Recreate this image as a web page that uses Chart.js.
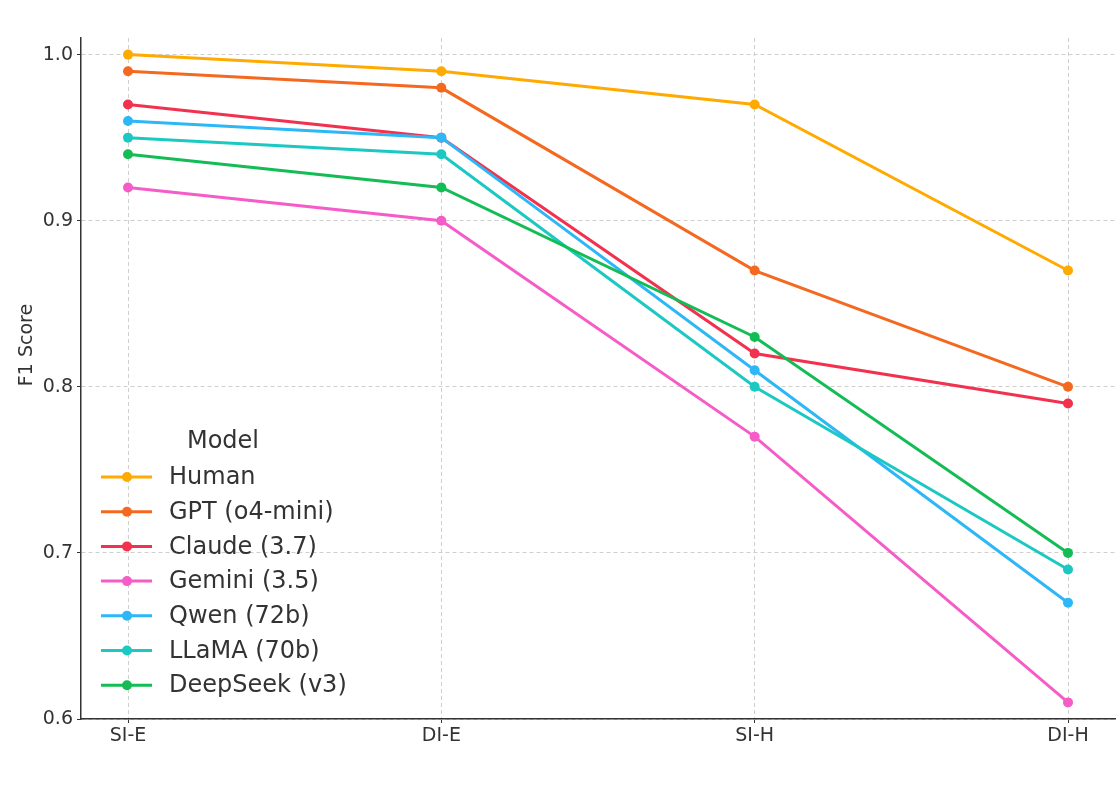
<!DOCTYPE html>
<html>
<head>
<meta charset="utf-8">
<script src="https://cdn.jsdelivr.net/npm/chart.js@4.4.1/dist/chart.umd.min.js"></script>
<style>
  html, body { margin: 0; padding: 0; background: #fff; }
  #wrap { width: 1120px; height: 791px; }
</style>
</head>
<body>
<div id="wrap"><canvas id="chart" width="1120" height="791"></canvas></div>
<script>
const categories = ['SI-E', 'DI-E', 'SI-H', 'DI-H'];
const yTicks = [0.6, 0.7, 0.8, 0.9, 1.0];

const models = ['Human', 'GPT (o4-mini)', 'Claude (3.7)', 'Gemini (3.5)', 'Qwen (72b)', 'LLaMA (70b)', 'DeepSeek (v3)'];
const colors = ['#FFAA00', '#F4691F', '#F2314F', '#F65CC8', '#2DB7F6', '#1CC8C2', '#14BC55'];

const human    = [1.00, 0.99, 0.97, 0.87];
const gpt      = [0.99, 0.98, 0.87, 0.80];
const claude   = [0.97, 0.95, 0.82, 0.79];
const gemini   = [0.92, 0.90, 0.77, 0.61];
const qwen     = [0.96, 0.95, 0.81, 0.67];
const llama    = [0.95, 0.94, 0.80, 0.69];
const deepseek = [0.94, 0.92, 0.83, 0.70];

const series = [human, gpt, claude, gemini, qwen, llama, deepseek];

const FONT = "'DejaVu Sans', sans-serif";
const TEXT = '#333333';

// legend + y title drawn inside the plot, like the matplotlib original
const overlay = {
  id: 'overlay',
  afterDraw(chart) {
    const ctx = chart.ctx;
    ctx.save();
    // y axis title
    ctx.fillStyle = TEXT;
    ctx.font = '19px ' + FONT;
    ctx.textAlign = 'center';
    ctx.textBaseline = 'middle';
    ctx.translate(27, 345);
    ctx.rotate(-Math.PI / 2);
    ctx.fillText('F1 Score', 0, 0);
    ctx.restore();

    ctx.save();
    ctx.font = '24px ' + FONT;
    ctx.fillStyle = TEXT;
    ctx.textAlign = 'center';
    ctx.textBaseline = 'middle';
    ctx.fillText('Model', 223, 442);
    ctx.textAlign = 'left';
    models.forEach((name, i) => {
      const y = 477 + i * 34.7;
      ctx.strokeStyle = colors[i];
      ctx.lineWidth = 3;
      ctx.beginPath();
      ctx.moveTo(101, y);
      ctx.lineTo(152, y);
      ctx.stroke();
      ctx.fillStyle = colors[i];
      ctx.beginPath();
      ctx.arc(127, y, 5, 0, Math.PI * 2);
      ctx.fill();
      ctx.fillStyle = TEXT;
      ctx.fillText(name, 169, y + 1);
    });
    ctx.restore();
  }
};

const ctx = document.getElementById('chart').getContext('2d');
new Chart(ctx, {
  type: 'line',
  data: {
    datasets: series.map((vals, i) => ({
      label: models[i],
      data: vals.map((v, j) => ({ x: j, y: v })),
      borderColor: colors[i],
      backgroundColor: colors[i],
      pointBackgroundColor: colors[i],
      borderWidth: 3,
      pointRadius: 5,
      pointBorderWidth: 0,
      tension: 0,
      order: series.length - i
    }))
  },
  options: {
    responsive: false,
    animation: false,
    devicePixelRatio: 1,
    layout: { padding: { top: 38, right: 4, left: 0, bottom: 0 } },
    plugins: { legend: { display: false }, tooltip: { enabled: false } },
    scales: {
      x: {
        type: 'linear',
        min: -0.15,
        max: 3.15,
        afterBuildTicks: s => { s.ticks = categories.map((c, i) => ({ value: i })); },
        afterFit: s => { s.height = 72; },
        ticks: {
          callback: v => categories[v],
          color: TEXT,
          font: { family: FONT, size: 19 },
          padding: 2,
          maxRotation: 0
        },
        grid: {
          color: '#cfcfcf',
          tickColor: '#333',
          tickBorderDash: [],
          tickLength: 4
        },
        border: { display: true, color: '#333', width: 1.5, dash: [4, 3] }
      },
      y: {
        min: 0.6,
        max: 1.01,
        afterBuildTicks: s => { s.ticks = yTicks.map(v => ({ value: v })); },
        afterFit: s => { s.width = 81; },
        ticks: {
          callback: v => v.toFixed(1),
          color: TEXT,
          font: { family: FONT, size: 19 },
          padding: 4
        },
        grid: {
          color: '#cfcfcf',
          tickColor: '#333',
          tickBorderDash: [],
          tickLength: 4
        },
        border: { display: true, color: '#333', width: 1.5, dash: [4, 3] }
      }
    }
  },
  plugins: [overlay]
});
</script>
</body>
</html>
